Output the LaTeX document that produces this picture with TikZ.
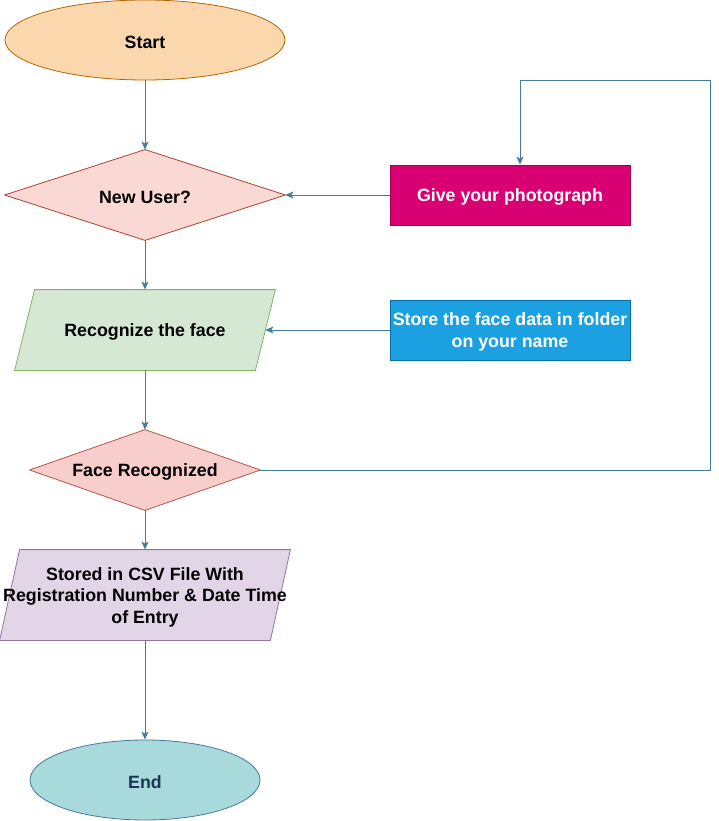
\documentclass[tikz,border=0pt]{standalone}
\usepackage{fontspec}
\setmainfont{Liberation Sans}
\usetikzlibrary{shapes.geometric,arrows.meta}
\definecolor{startfill}{HTML}{FAD7AC}
\definecolor{startdraw}{HTML}{B46504}
\definecolor{nufill}{HTML}{FAD9D5}
\definecolor{nudraw}{HTML}{AE4132}
\definecolor{gpfill}{HTML}{D80073}
\definecolor{gpdraw}{HTML}{A50040}
\definecolor{rfill}{HTML}{D5E8D4}
\definecolor{rdraw}{HTML}{82B366}
\definecolor{sfill}{HTML}{1BA1E2}
\definecolor{sdraw}{HTML}{006EAF}
\definecolor{frfill}{HTML}{F8CECC}
\definecolor{frdraw}{HTML}{B85450}
\definecolor{csvfill}{HTML}{E1D5E7}
\definecolor{csvdraw}{HTML}{9673A6}
\definecolor{endfill}{HTML}{A8DADC}
\definecolor{enddraw}{HTML}{457B9D}
\definecolor{endtext}{HTML}{1D3557}
\definecolor{arrowc}{HTML}{457B9D}
\tikzset{
  txt/.style={font=\fontsize{17.8}{21.5}\selectfont\bfseries, align=center, inner sep=0pt, yshift=-2pt},
  ell/.style={ellipse, line width=0.8pt, inner sep=0pt},
  box/.style={rectangle, line width=0.8pt, inner sep=0pt},
  shapeline/.style={line width=0.8pt},
  conn/.style={draw=arrowc, line width=0.9pt, -{Stealth[length=8pt,width=7pt,inset=2pt]}}
}
\begin{document}
\begin{tikzpicture}[x=1pt,y=1pt]
\useasboundingbox (0,0) rectangle (719,-821);
% Start
\node[ell, draw=startdraw, fill=startfill, minimum width=280, minimum height=80] (start) at (145,-40) {};
\node[txt] at (start.center) {Start};
% New user (diamond)
\node[box, minimum width=280, minimum height=90] (newuser) at (145,-195) {};
\draw[shapeline, draw=nudraw, fill=nufill] (newuser.west) -- (newuser.north) -- (newuser.east) -- (newuser.south) -- cycle;
\node[txt] at (newuser.center) {New User?};
% Give photo
\node[box, draw=gpdraw, fill=gpfill, minimum width=240, minimum height=60] (photo) at (510,-195) {};
\node[txt, text=white] at (photo.center) {Give your photograph};
% Recognize (parallelogram)
\node[box, minimum width=240, minimum height=80] (recog) at (145,-330) {};
\draw[shapeline, draw=rdraw, fill=rfill] ([xshift=10]recog.north west) -- ([xshift=10]recog.north east) -- ([xshift=-10]recog.south east) -- ([xshift=-10]recog.south west) -- cycle;
\node[txt] at (recog.center) {Recognize the face};
% Store
\node[box, draw=sdraw, fill=sfill, minimum width=240, minimum height=60] (store) at (510,-330) {};
\node[txt, text=white] at (store.center) {Store the face data in folder\\on your name};
% Face recognized (diamond)
\node[box, minimum width=230, minimum height=80] (facerec) at (145,-470) {};
\draw[shapeline, draw=frdraw, fill=frfill] (facerec.west) -- (facerec.north) -- (facerec.east) -- (facerec.south) -- cycle;
\node[txt] at (facerec.center) {Face Recognized};
% Stored CSV (parallelogram)
\node[box, minimum width=270, minimum height=90] (csv) at (145,-595) {};
\draw[shapeline, draw=csvdraw, fill=csvfill] ([xshift=10]csv.north west) -- ([xshift=10]csv.north east) -- ([xshift=-10]csv.south east) -- ([xshift=-10]csv.south west) -- cycle;
\node[txt] at (csv.center) {Stored in CSV File With\\Registration Number \& Date Time\\of Entry};
% End
\node[ell, draw=enddraw, fill=endfill, minimum width=230, minimum height=80] (end) at (145,-780) {};
\node[txt, text=endtext] at (end.center) {End};
% connectors
\draw[conn] (start.south) -- (newuser.north);
\draw[conn] (photo.west) -- (newuser.east);
\draw[conn] (newuser.south) -- (recog.north);
\draw[conn] (store.west) -- (recog.east);
\draw[conn] (recog.south) -- (facerec.north);
\draw[conn] (facerec.south) -- (csv.north);
\draw[conn] (csv.south) -- (end.north);
\coordinate (c1) at (710,-470);
\coordinate (c2) at (710,-80);
\coordinate (c3) at (520,-80);
\draw[conn] (facerec.east) -- (c1) -- (c2) -- (c3) -- (c3 |- photo.north);
\end{tikzpicture}
\end{document}
